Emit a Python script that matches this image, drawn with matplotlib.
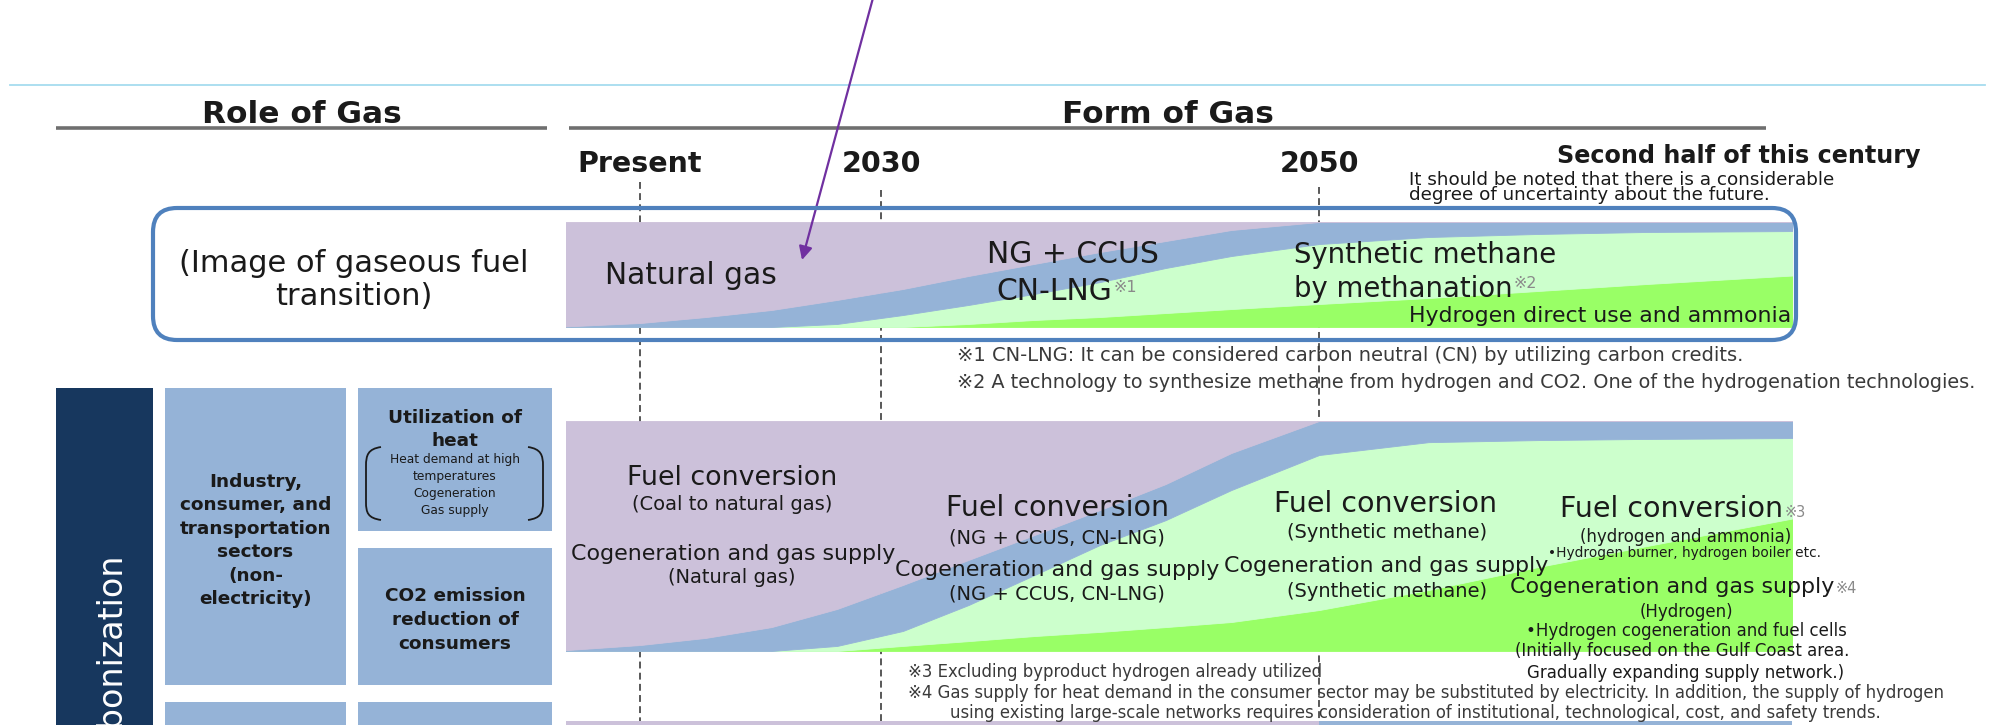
import matplotlib
matplotlib.use("Agg")
import matplotlib.pyplot as plt
from matplotlib.patches import FancyBboxPatch, Rectangle, PathPatch
from matplotlib.path import Path

plt.rcParams["font.family"] = ["DejaVu Sans", "Noto Sans CJK JP"]

W, H = 1995, 725

# ---- values -------------------------------------------------------------
years = [2015, 2019, 2022, 2025, 2028, 2031, 2034, 2037, 2040, 2043,
         2046, 2050, 2055, 2060, 2065, 2072]

# image of gaseous fuel transition (share of band, %)
img_hydrogen = [0, 0, 0, 0, 0, 0, 2.9, 6.7, 9.5, 13.3, 17.1, 21.9, 27.6, 34.3, 41.0, 49.5]
img_synthetic = [0, 0, 0, 0, 2.9, 11.4, 18.1, 24.8, 33.3, 42.9, 50.5, 57.1, 58.1, 54.3, 49.5, 41.9]
img_ccus = [0, 3.8, 9.5, 16.2, 22.9, 24.8, 27.6, 28.6, 28.6, 25.7, 24.8, 21.0, 14.3, 11.4, 9.5, 8.6]
img_natural = [100, 96.2, 90.5, 83.8, 74.2, 63.8, 51.4, 39.9, 28.6, 18.1, 7.6, 0, 0, 0, 0, 0]

# industry, consumer and transportation sectors (share of band, %)
ind_hydrogen = [0, 0, 0, 0, 0, 2.2, 4.3, 6.5, 8.3, 10.4, 12.6, 17.8, 26.5, 36.5, 45.7, 58.3]
ind_synthetic = [0, 0, 0, 0, 2.2, 6.5, 15.7, 26.5, 37.8, 46.5, 57.4, 67.4, 64.3, 55.2, 46.5, 34.3]
ind_ccus = [0, 2.6, 5.7, 10.4, 16.1, 20.0, 19.6, 17.4, 15.2, 15.7, 16.1, 14.8, 9.2, 8.3, 7.8, 7.4]
ind_natural = [100, 97.4, 94.3, 89.6, 81.7, 71.3, 60.4, 49.6, 38.7, 27.4, 13.9, 0, 0, 0, 0, 0]

milestones = [2019, 2030, 2050]
milestone_labels = ["Present", "2030", "2050"]
next_band_split = 2050

box_industry = ["Industry,", "consumer, and", "transportation", "sectors",
                "(non-", "electricity)"]
box_heat = ["Utilization of", "heat"]
box_heat_small = ["Heat demand at high", "temperatures", "Cogeneration", "Gas supply"]
box_co2 = ["CO2 emission", "reduction of", "consumers"]

# ---- styles -------------------------------------------------------------
INK = "#1a1a1a"
GREY = "#8a8a8a"
NOTE = "#3a3a3a"
fill_colors = ["#99ff66", "#ccffcc", "#95b3d7", "#ccc1da"]
BOX_BLUE = "#95b3d7"
NAVY = "#17375e"
PX_PER_YEAR = 21.9
BAND_X = (566, 1792)


def year_at(px):
    return 2030 + (px - 881) / PX_PER_YEAR


fig = plt.figure(figsize=(W / 100, H / 100), dpi=100)
fig.patch.set_facecolor("white")


def px_axes(x0, y0, x1, y1):
    a = fig.add_axes([x0 / W, 1 - y1 / H, (x1 - x0) / W, (y1 - y0) / H])
    a.axis("off")
    a.patch.set_visible(False)
    return a


# timeline with the dashed milestone lines (under the bands)
axt = px_axes(BAND_X[0], 0, BAND_X[1], H)
axt.set_xlim(year_at(BAND_X[0]), year_at(BAND_X[1]))
axt.set_ylim(H, 0)
axt.vlines(milestones, [182, 190, 187], H, colors="#2b2b2b",
           linestyles=(0, (4.5, 2.8)), lw=1.1)
for yr, lab in zip(milestones, milestone_labels):
    axt.text(yr, 172, lab, ha="center", va="baseline", fontsize=20.5,
             fontweight="bold", color=INK)


def band(y0, y1, shares):
    a = px_axes(BAND_X[0], y0, BAND_X[1], y1)
    polys = a.stackplot(years, *shares, colors=fill_colors, lw=0)
    for p, c in zip(polys, fill_colors):
        p.set_edgecolor(c)
        p.set_linewidth(0.6)
    a.set_xlim(year_at(BAND_X[0]), year_at(BAND_X[1]))
    a.set_ylim(0, 100)
    return a


band(222, 327, [img_hydrogen, img_synthetic, img_ccus, img_natural])
band(421, 651, [ind_hydrogen, ind_synthetic, ind_ccus, ind_natural])

# top edge of the next (cut off) band
axn = px_axes(BAND_X[0], 721, BAND_X[1], 730)
axn.set_xlim(year_at(BAND_X[0]), year_at(BAND_X[1]))
axn.axvspan(year_at(BAND_X[0]), next_band_split, color=fill_colors[3], lw=0)
axn.axvspan(next_band_split, year_at(BAND_X[1]), color=fill_colors[2], lw=0)

# canvas for frames and text, in pixel units
ax = px_axes(0, 0, W, H)
ax.set_xlim(0, W)
ax.set_ylim(H, 0)


def put(x, y, s, size, weight="normal", ha="center", color=INK):
    return ax.text(x, y, s, fontsize=size, fontweight=weight, ha=ha,
                   va="baseline", color=color)


def rows(x, y0, step, texts, size, weight="normal"):
    for i, t in enumerate(texts):
        put(x, y0 + i * step, t, size, weight)


def tag(txt, s, y, size, va="baseline"):
    ax.annotate(s, xy=(1, y), xycoords=(txt, "data"), xytext=(1, 0),
                textcoords="offset points", fontsize=size, color=GREY,
                ha="left", va=va)


# header
ax.plot([10, 1985], [85, 85], color="#a6dcef", lw=1.3)
ax.plot([56, 547], [128, 128], color="#6f6f6f", lw=2.6, solid_capstyle="butt")
ax.plot([569, 1766], [128, 128], color="#6f6f6f", lw=2.6, solid_capstyle="butt")
put(302, 123, "Role of Gas", 22.5, "bold")
put(1168, 123, "Form of Gas", 22.5, "bold")
put(1739, 163, "Second half of this century", 17.2, "bold")
put(1409, 185, "It should be noted that there is a considerable", 13.2, ha="left")
put(1409, 200, "degree of uncertainty about the future.", 13.2, ha="left")

# arrow
ax.annotate("", xy=(802, 260), xytext=(873, -2),
            arrowprops=dict(arrowstyle="-|>", color="#7030a0", lw=1.6,
                            mutation_scale=20, shrinkA=0, shrinkB=0))

# upper frame
ax.add_patch(FancyBboxPatch((153, 208), 1796 - 153, 340 - 208,
                            boxstyle="round,pad=0,rounding_size=24",
                            fc="none", ec="#4f81bd", lw=3, zorder=5))
put(354, 272, "(Image of gaseous fuel", 22)
put(354, 305, "transition)", 22)
put(691, 284, "Natural gas", 21.4)
put(1073, 263, "NG + CCUS", 21.5)
t = put(1054, 300, "CN-LNG", 21.5)
tag(t, "※1", 280, 11.5, va="top")
put(1425, 263, "Synthetic methane", 19.8)
t = put(1403, 297, "by methanation", 19.8)
tag(t, "※2", 276, 11.5, va="top")
put(1791, 322, "Hydrogen direct use and ammonia", 15.8, ha="right")

put(957, 361, "※1 CN-LNG: It can be considered carbon neutral (CN) by utilizing carbon credits.",
    14, ha="left", color=NOTE)
put(957, 388, "※2 A technology to synthesize methane from hydrogen and CO2. "
    "One of the hydrogenation technologies.", 13.9, ha="left", color=NOTE)

# left panel
ax.add_patch(Rectangle((56, 388), 97, H + 20 - 388, color=NAVY, lw=0))
ax.text(120, 552, "Decarbonization", rotation=90, rotation_mode="anchor",
        ha="right", va="baseline", color="white", fontsize=24)
for (x0, y0, x1, y1) in [(165, 388, 346, 685), (358, 388, 552, 531),
                         (358, 548, 552, 685), (165, 702, 346, H + 20),
                         (358, 702, 552, H + 20)]:
    ax.add_patch(Rectangle((x0, y0), x1 - x0, y1 - y0, color=BOX_BLUE, lw=0))
rows(255.5, 487, 23.4, box_industry, 13.3, "bold")
rows(455, 423, 23, box_heat, 13.3, "bold")
rows(455, 463, 17, box_heat_small, 8.8)
rows(455, 601, 24, box_co2, 13.3, "bold")
for side in (1, -1):
    xo, xi = (381, 366) if side == 1 else (528, 543)
    verts = [(xo, 447), (xi + 2 * side, 449), (xi, 455), (xi, 466),
             (xi, 502), (xi, 513), (xi + 2 * side, 518), (xo, 520)]
    codes = [Path.MOVETO, Path.CURVE4, Path.CURVE4, Path.CURVE4,
             Path.LINETO, Path.CURVE4, Path.CURVE4, Path.CURVE4]
    ax.add_patch(PathPatch(Path(verts, codes), fc="none", ec=INK, lw=1.3))

# lower band labels
put(732, 485, "Fuel conversion", 19.4)
put(732, 510, "(Coal to natural gas)", 14)
put(733, 560, "Cogeneration and gas supply", 15.9)
put(732, 583, "(Natural gas)", 14)

put(1057, 516, "Fuel conversion", 20.5)
put(1057, 543, "(NG + CCUS, CN-LNG)", 14)
put(1057, 576, "Cogeneration and gas supply", 15.9)
put(1057, 600, "(NG + CCUS, CN-LNG)", 14)

put(1386, 512, "Fuel conversion", 20.5)
put(1387, 538, "(Synthetic methane)", 14)
put(1386, 572, "Cogeneration and gas supply", 15.9)
put(1387, 597, "(Synthetic methane)", 14)

t = put(1672, 517, "Fuel conversion", 20.5)
tag(t, "※3", 517, 10.5)
put(1686, 542, "(hydrogen and ammonia)", 12)
put(1685, 557, "•Hydrogen burner, hydrogen boiler etc.", 9.9)
t = put(1672, 593, "Cogeneration and gas supply", 15.9)
tag(t, "※4", 593, 10.5)
put(1686, 617, "(Hydrogen)", 12)
put(1686, 636, "•Hydrogen cogeneration and fuel cells", 12)
put(1682, 656, "(Initially focused on the Gulf Coast area.", 12)
put(1686, 678, "Gradually expanding supply network.)", 12)

put(908, 677, "※3 Excluding byproduct hydrogen already utilized", 11.9, ha="left", color=NOTE)
put(908, 698, "※4 Gas supply for heat demand in the consumer sector may be substituted "
    "by electricity. In addition, the supply of hydrogen", 11.9, ha="left", color=NOTE)
put(950, 718, "using existing large-scale networks requires consideration of "
    "institutional, technological, cost, and safety trends.", 11.9, ha="left", color=NOTE)

fig.savefig("out.png", dpi=100, facecolor="white")
